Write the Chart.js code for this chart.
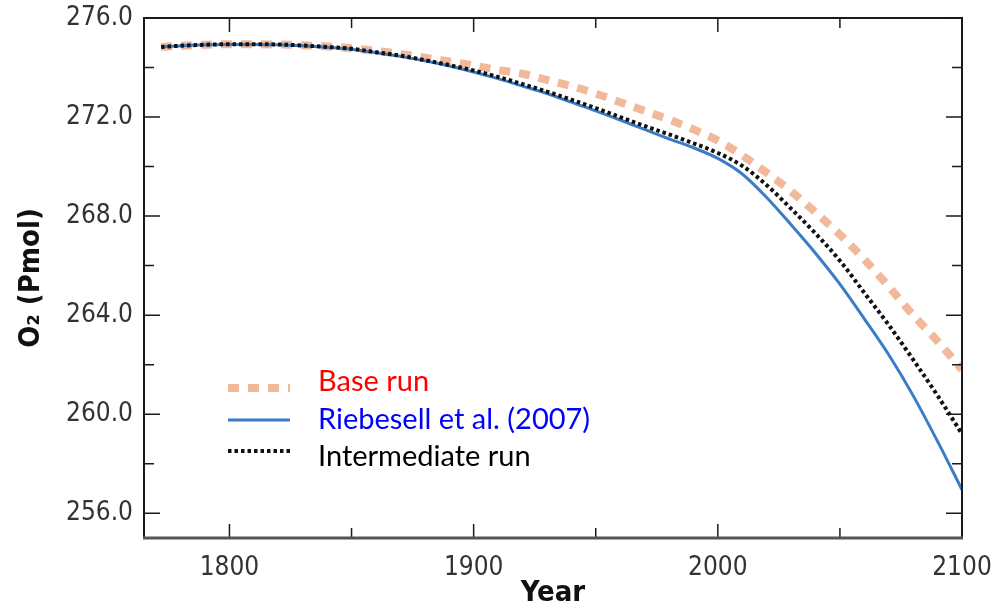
<!DOCTYPE html>
<html>
<head>
<meta charset="utf-8">
<script src="https://cdn.jsdelivr.net/npm/chart.js@4.4.1/dist/chart.umd.min.js"></script>
<style>
  html, body { margin: 0; padding: 0; background: #fff; }
  .wrap { width: 993px; height: 609px; }
</style>
</head>
<body>
<div class="wrap"><canvas id="myChart" width="993" height="609"></canvas></div>
<script>
const years = [1772, 1780, 1790, 1800, 1810, 1820, 1830, 1840, 1850, 1860, 1870, 1880,
  1890, 1900, 1910, 1920, 1930, 1940, 1950, 1960, 1970, 1980, 1990, 2000,
  2010, 2020, 2030, 2040, 2050, 2060, 2070, 2080, 2090, 2100];

const baseRun = [274.83, 274.88, 274.92, 274.94, 274.94, 274.93, 274.9, 274.85, 274.78, 274.67,
  274.55, 274.4, 274.25, 274.08, 273.9, 273.75, 273.5, 273.25, 272.95, 272.6,
  272.25, 271.9, 271.5, 271.05, 270.45, 269.75, 269.0, 268.15, 267.25, 266.25,
  265.15, 264.0, 262.95, 261.8];

const riebesell = [274.83, 274.88, 274.92, 274.93, 274.93, 274.92, 274.88, 274.82, 274.74, 274.6,
  274.45, 274.27, 274.06, 273.82, 273.55, 273.25, 272.95, 272.6, 272.25, 271.88,
  271.5, 271.12, 270.76, 270.33, 269.7, 268.75, 267.65, 266.5, 265.25, 263.85,
  262.4, 260.75, 258.9, 256.95];

const intermediate = [274.83, 274.88, 274.92, 274.94, 274.94, 274.93, 274.89, 274.83, 274.76, 274.62,
  274.48, 274.3, 274.1, 273.88, 273.62, 273.33, 273.03, 272.7, 272.36, 272.0,
  271.64, 271.3, 270.94, 270.55, 270.03, 269.25, 268.3, 267.3, 266.2, 264.9,
  263.6, 262.2, 260.75, 259.2];

const seriesNames = ["Base run", "Riebesell et al. (2007)", "Intermediate run"];
const legendTextColors = ["#ff0000", "#0000ff", "#000000"];

const yLabelValues = [256, 260, 264, 268, 272, 276];
const xLabelValues = [1800, 1900, 2000, 2100];

const tickFont = "'DejaVu Sans Condensed', sans-serif";

function points(values) {
  return years.map((yr, i) => ({ x: yr, y: values[i] }));
}

// frame with inward ticks, like the original plot
const framePlugin = {
  id: "frame",
  afterDatasetsDraw(chart) {
    const { ctx, chartArea: a, scales: { x, y } } = chart;
    ctx.save();
    ctx.strokeStyle = "#1a1a1a";
    ctx.lineWidth = 2;
    ctx.beginPath();
    ctx.moveTo(a.left, a.bottom);
    ctx.lineTo(a.left, a.top);
    ctx.lineTo(a.right, a.top);
    ctx.lineTo(a.right, a.bottom);
    ctx.stroke();

    ctx.lineWidth = 1.5;
    x.ticks.forEach(t => {
      const px = x.getPixelForValue(t.value);
      const len = xLabelValues.includes(t.value) ? 14 : 10;
      ctx.beginPath();
      ctx.moveTo(px, a.bottom); ctx.lineTo(px, a.bottom - len);
      ctx.moveTo(px, a.top); ctx.lineTo(px, a.top + len);
      ctx.stroke();
    });
    y.ticks.forEach(t => {
      const py = y.getPixelForValue(t.value);
      const len = yLabelValues.includes(t.value) ? 16 : 10;
      ctx.beginPath();
      ctx.moveTo(a.left, py); ctx.lineTo(a.left + len, py);
      ctx.moveTo(a.right, py); ctx.lineTo(a.right - len, py);
      ctx.stroke();
    });

    ctx.strokeStyle = "#555";
    ctx.lineWidth = 3;
    ctx.beginPath();
    ctx.moveTo(a.left - 1, a.bottom);
    ctx.lineTo(a.right + 1, a.bottom);
    ctx.stroke();
    ctx.restore();
  }
};

const legendPlugin = {
  id: "insideLegend",
  afterDraw(chart) {
    const ctx = chart.ctx;
    const lineY = [388, 420, 451];
    const textY = [382, 420, 457];
    ctx.save();
    chart.data.datasets.forEach((ds, i) => {
      ctx.strokeStyle = ds.borderColor;
      ctx.lineWidth = ds.borderWidth;
      ctx.setLineDash(ds.borderDash || []);
      ctx.beginPath();
      ctx.moveTo(228, lineY[i]);
      ctx.lineTo(290, lineY[i]);
      ctx.stroke();
      ctx.setLineDash([]);
      ctx.fillStyle = legendTextColors[i];
      ctx.font = "29px Lato, sans-serif";
      ctx.textBaseline = "middle";
      ctx.fillText(seriesNames[i], 318, textY[i]);
    });
    ctx.restore();
  }
};

const ctx = document.getElementById("myChart").getContext("2d");

new Chart(ctx, {
  type: "line",
  data: {
    datasets: [
      {
        label: seriesNames[0],
        data: points(baseRun),
        borderColor: "rgba(238, 160, 120, 0.75)",
        borderWidth: 8,
        borderDash: [11, 9],
        order: 3
      },
      {
        label: seriesNames[1],
        data: points(riebesell),
        borderColor: "#3b7cc6",
        borderWidth: 3,
        order: 2
      },
      {
        label: seriesNames[2],
        data: points(intermediate),
        borderColor: "#111",
        borderWidth: 4,
        borderDash: [3.5, 3],
        order: 1
      }
    ]
  },
  options: {
    responsive: false,
    animation: false,
    layout: { padding: { top: 18, right: 31, left: 0, bottom: 0 } },
    elements: {
      point: { radius: 0 },
      line: { cubicInterpolationMode: "monotone", fill: false }
    },
    plugins: {
      legend: { display: false },
      tooltip: { enabled: false }
    },
    scales: {
      x: {
        type: "linear",
        min: 1765,
        max: 2100,
        grid: { display: false, drawTicks: false },
        border: { display: false },
        ticks: {
          stepSize: 50,
          includeBounds: false,
          autoSkip: false,
          maxRotation: 0,
          padding: 15,
          color: "#333",
          font: { family: tickFont, size: 26 },
          callback: v => xLabelValues.includes(v) ? String(v) : ""
        },
        title: {
          display: true,
          text: "Year",
          color: "#111",
          padding: { top: 0, bottom: -2 },
          font: { family: "'DejaVu Sans Condensed', sans-serif", size: 29, weight: "bold" }
        },
        afterFit: s => { s.height = 71; s.paddingLeft = 0; s.paddingRight = 0; }
      },
      y: {
        min: 255,
        max: 276,
        grid: { display: false, drawTicks: false },
        border: { display: false },
        ticks: {
          stepSize: 2,
          includeBounds: false,
          autoSkip: false,
          padding: 11,
          color: "#333",
          font: { family: tickFont, size: 26 },
          callback: v => yLabelValues.includes(v) ? v.toFixed(1) : ""
        },
        title: {
          display: true,
          text: "O₂ (Pmol)",
          color: "#111",
          padding: { top: 14, bottom: 0 },
          font: { family: "'DejaVu Sans Condensed', sans-serif", size: 29, weight: "bold" }
        },
        afterFit: s => { s.width = 144; s.paddingTop = 0; s.paddingBottom = 0; }
      }
    }
  },
  plugins: [framePlugin, legendPlugin]
});
</script>
</body>
</html>
